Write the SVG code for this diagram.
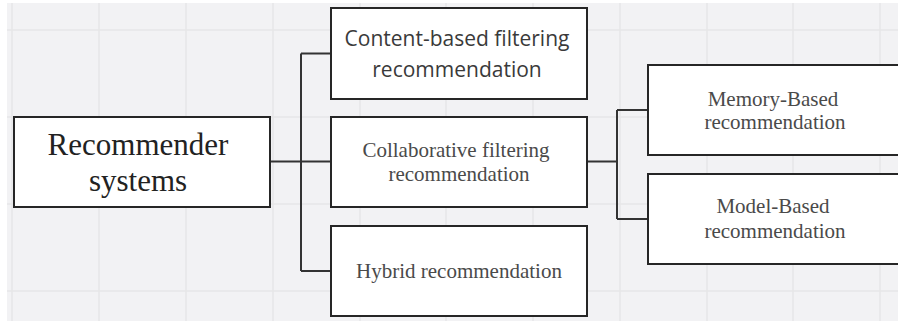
<svg xmlns="http://www.w3.org/2000/svg" width="898" height="321" viewBox="0 0 898 321">
<style>
.grid{stroke:#e6e6e8;stroke-width:1.5;fill:none}
.box{fill:#ffffff;stroke:#262626;stroke-width:2}
.conn{stroke:#333333;stroke-width:2;fill:none}
.serif{font-family:"Liberation Serif","Times New Roman",serif;text-anchor:middle}
.sans{font-family:"Open Sans","Noto Sans",sans-serif;text-anchor:middle}
</style>
<rect x="0" y="0" width="898" height="321" fill="#ffffff"/>
<rect x="7" y="3" width="891" height="318" fill="#f2f2f4"/>
<g class="grid">
<path d="M12 3V321M99 3V321M186 3V321M273 3V321M360 3V321M446 3V321M533 3V321M620 3V321M707 3V321M793 3V321M880 3V321"/>
<path d="M7 30H898M7 117H898M7 204H898M7 291H898"/>
</g>
<g id="connectors">
<path class="conn" d="M270 161.5H331M301 53.5V271M301 53.5H331M301 271H331"/>
<path class="conn" d="M587 161.5H617M617 110V219M617 110H648M617 219H648"/>
</g>
<g id="recommender-systems">
<rect class="box" x="14" y="117" width="256" height="90"/>
<text class="serif" x="138" y="155" font-size="31" fill="#222">Recommender</text>
<text class="serif" x="138" y="191" font-size="31" fill="#222">systems</text>
</g>
<g id="content-based">
<rect class="box" x="331" y="8" width="256" height="91"/>
<text class="sans" x="457" y="45.5" font-size="21" fill="#3a3a3a">Content-based filtering</text>
<text class="sans" x="457" y="76.5" font-size="21" fill="#3a3a3a">recommendation</text>
</g>
<g id="collaborative">
<rect class="box" x="331" y="117" width="256" height="90"/>
<text class="serif" x="456" y="157" font-size="21" fill="#4a4a4a">Collaborative filtering</text>
<text class="serif" x="459" y="181" font-size="21" fill="#4a4a4a">recommendation</text>
</g>
<g id="hybrid">
<rect class="box" x="331" y="226" width="256" height="90"/>
<text class="serif" x="459" y="278.3" font-size="21" fill="#4a4a4a">Hybrid recommendation</text>
</g>
<g id="memory-based">
<rect class="box" x="648" y="65" width="256" height="90"/>
<text class="serif" x="773" y="105.5" font-size="21" fill="#4a4a4a">Memory-Based</text>
<text class="serif" x="775" y="129.3" font-size="21" fill="#4a4a4a">recommendation</text>
</g>
<g id="model-based">
<rect class="box" x="648" y="174" width="256" height="90"/>
<text class="serif" x="773" y="213.3" font-size="21" fill="#4a4a4a">Model-Based</text>
<text class="serif" x="775" y="237.7" font-size="21" fill="#4a4a4a">recommendation</text>
</g>
</svg>
